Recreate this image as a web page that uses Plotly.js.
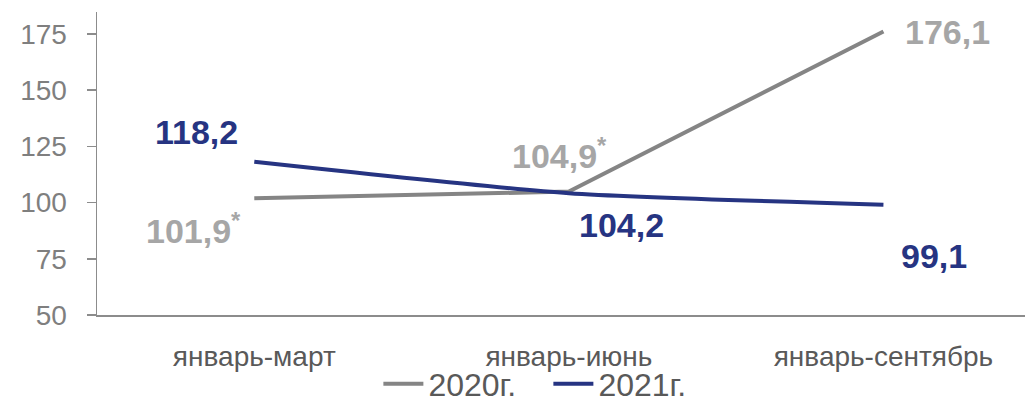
<!DOCTYPE html>
<html><head><meta charset="utf-8">
<script src="https://cdn.plot.ly/plotly-3.0.1.min.js"></script>
<style>html,body{margin:0;padding:0;background:#fff}#chart{width:1025px;height:405px}</style>
</head><body><div id="chart"></div>
<script>
const categories = ['январь-март', 'январь-июнь', 'январь-сентябрь'];
const series2020 = [101.9, 104.9, 176.1];
const series2021 = [118.2, 104.2, 99.1];
const labels2020 = ['101,9<sup>*</sup>', '104,9<sup>*</sup>', '176,1'];
const labels2021 = ['118,2', '104,2', '99,1'];
const yTicks = [50, 75, 100, 125, 150, 175];

const grey = '#858585', navy = '#263482', labelGrey = '#a6a6a6';
const off2020 = [[-61, -30], [-9, 38], [64, 0]];
const off2021 = [[-58, 30], [53, -32], [51, -51]];
const FONT = '"Liberation Sans", Arial, sans-serif';

const traces = [
  {x: categories, y: series2020, name: '2020г.', type: 'scatter', mode: 'lines',
   line: {color: grey, width: 4}},
  {x: categories, y: series2021, name: '2021г.', type: 'scatter', mode: 'lines',
   line: {color: navy, width: 4, shape: 'spline', smoothing: 0.6}}
];
const ann = [];
categories.forEach((c, i) => {
  ann.push({x: c, y: series2020[i], text: '<b>' + labels2020[i] + '</b>', showarrow: false,
    xshift: off2020[i][0], yshift: off2020[i][1],
    font: {family: FONT, size: 34, color: labelGrey}});
  ann.push({x: c, y: series2021[i], text: '<b>' + labels2021[i] + '</b>', showarrow: false,
    xshift: off2021[i][0], yshift: off2021[i][1],
    font: {family: FONT, size: 34, color: navy}});
});
const layout = {
  width: 1025, height: 405,
  margin: {l: 97, r: 0, t: 12, b: 90},
  paper_bgcolor: '#fff', plot_bgcolor: '#fff',
  font: {family: FONT, color: '#595959'},
  showlegend: true,
  legend: {orientation: 'h', xref: 'container', yref: 'container', x: 0.535, xanchor: 'center',
    y: 0.052, yanchor: 'middle', bgcolor: 'rgba(0,0,0,0)', font: {size: 32, color: '#595959'},
    itemwidth: 40, entrywidth: 115, entrywidthmode: 'pixels'},
  xaxis: {type: 'category', range: [-0.5, 2.45], showline: true, linecolor: '#8c8c8c', linewidth: 1.5,
    ticks: '', showgrid: false, zeroline: false, tickfont: {size: 28, color: '#595959'},
    ticklabelstandoff: 16},
  yaxis: {range: [50, 184.8], tickvals: yTicks, showline: true, linecolor: '#8c8c8c', linewidth: 1.5,
    ticks: 'outside', ticklen: 9, tickcolor: '#8c8c8c', tickwidth: 1.5, showgrid: false, zeroline: false,
    tickfont: {size: 28, color: '#7f7f7f'}, ticklabelstandoff: 14},
  annotations: ann
};
Plotly.newPlot('chart', traces, layout, {displayModeBar: false, staticPlot: true});
</script></body></html>
